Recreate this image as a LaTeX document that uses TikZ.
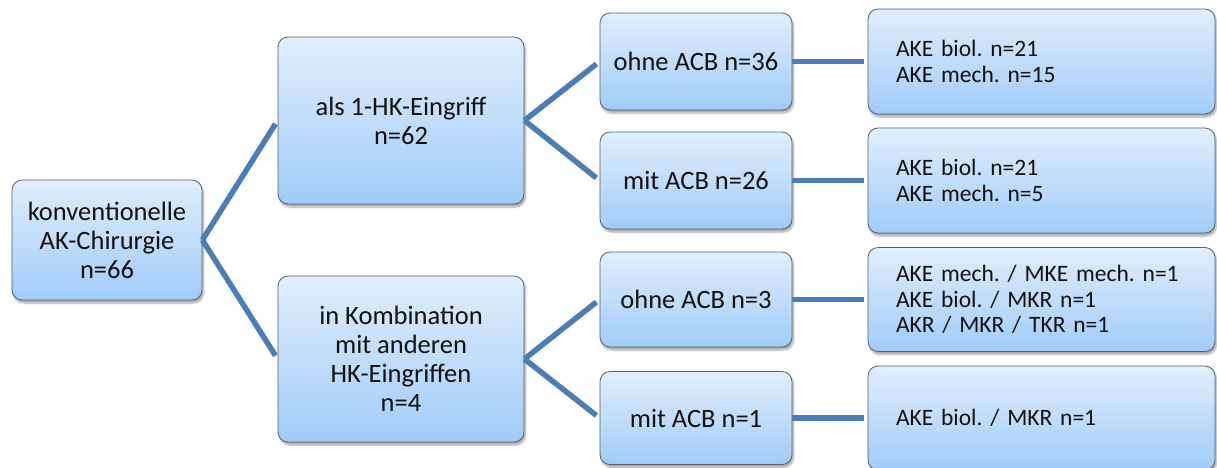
\documentclass[tikz,border=0pt]{standalone}
\usepackage{fontspec}
\setmainfont{Carlito}
\frenchspacing
\usetikzlibrary{shadows.blur}
\definecolor{boxtop}{HTML}{E1EEFC}
\definecolor{boxbot}{HTML}{A0CCF9}
\definecolor{boxline}{HTML}{56616D}
\definecolor{conn}{HTML}{4A7EB8}
\definecolor{txt}{HTML}{111111}
\tikzset{
  box/.style={draw=boxline, line width=0.8pt, rounded corners=10pt,
    top color=boxtop, bottom color=boxbot, text=txt, align=center,
    inner sep=0pt,
    blur shadow={shadow xshift=1.5pt, shadow yshift=-3pt, shadow blur steps=6, shadow opacity=35},
    font=\fontsize{26.5}{29}\selectfont},
  leafbox/.style={box, align=left, text width=#1,
    font=\fontsize{23.5}{25.5}\selectfont},
  link/.style={draw=conn, line width=5.5pt, shorten >=4pt}
}
\begin{document}
\begin{tikzpicture}[x=1pt,y=-1pt]
\useasboundingbox (0,0) rectangle (1217,467);
% level 1
\node[box, minimum width=190pt, minimum height=120pt] (b1) at (107,240) {konventionelle\\AK-Chirurgie\\n=66};
% level 2
\node[box, minimum width=246pt, minimum height=167pt] (b2) at (401,120.5) {als 1-HK-Eingriff\\n=62};
\node[box, minimum width=246pt, minimum height=166pt] (b3) at (401,359) {in Kombination\\mit anderen\\HK-Eingriffen\\n=4};
% level 3
\node[box, minimum width=192pt, minimum height=97pt] (c1) at (696,61.5) {ohne ACB n=36};
\node[box, minimum width=192pt, minimum height=97pt] (c2) at (696,180.5) {mit ACB n=26};
\node[box, minimum width=192pt, minimum height=95pt] (c3) at (696,299.5) {ohne ACB n=3};
\node[box, minimum width=192pt, minimum height=93pt] (c4) at (696,418) {mit ACB n=1};
% level 4
\node[leafbox=291pt, minimum width=347pt, minimum height=105pt, inner xsep=28pt] (d1) at (1041.5,61.5) {AKE biol. n=21\\AKE mech. n=15};
\node[leafbox=291pt, minimum width=347pt, minimum height=105pt, inner xsep=28pt] (d2) at (1041.5,180.5) {AKE biol. n=21\\AKE mech. n=5};
\node[leafbox=291pt, minimum width=347pt, minimum height=104pt, inner xsep=28pt] (d3) at (1041.5,299.5) {AKE mech. / MKE mech. n=1\\AKE biol. / MKR n=1\\AKR / MKR / TKR n=1};
\node[leafbox=291pt, minimum width=347pt, minimum height=104pt, inner xsep=28pt] (d4) at (1041.5,418) {AKE biol. / MKR n=1};
% connectors
\draw[link] (b1.east) -- (b2.west);
\draw[link] (b1.east) -- (b3.west);
\draw[link] (b2.east) -- (c1.west);
\draw[link] (b2.east) -- (c2.west);
\draw[link] (b3.east) -- (c3.west);
\draw[link] (b3.east) -- (c4.west);
\draw[link] (c1.east) -- (d1.west);
\draw[link] (c2.east) -- (d2.west);
\draw[link] (c3.east) -- (d3.west);
\draw[link] (c4.east) -- (d4.west);
\end{tikzpicture}
\end{document}
